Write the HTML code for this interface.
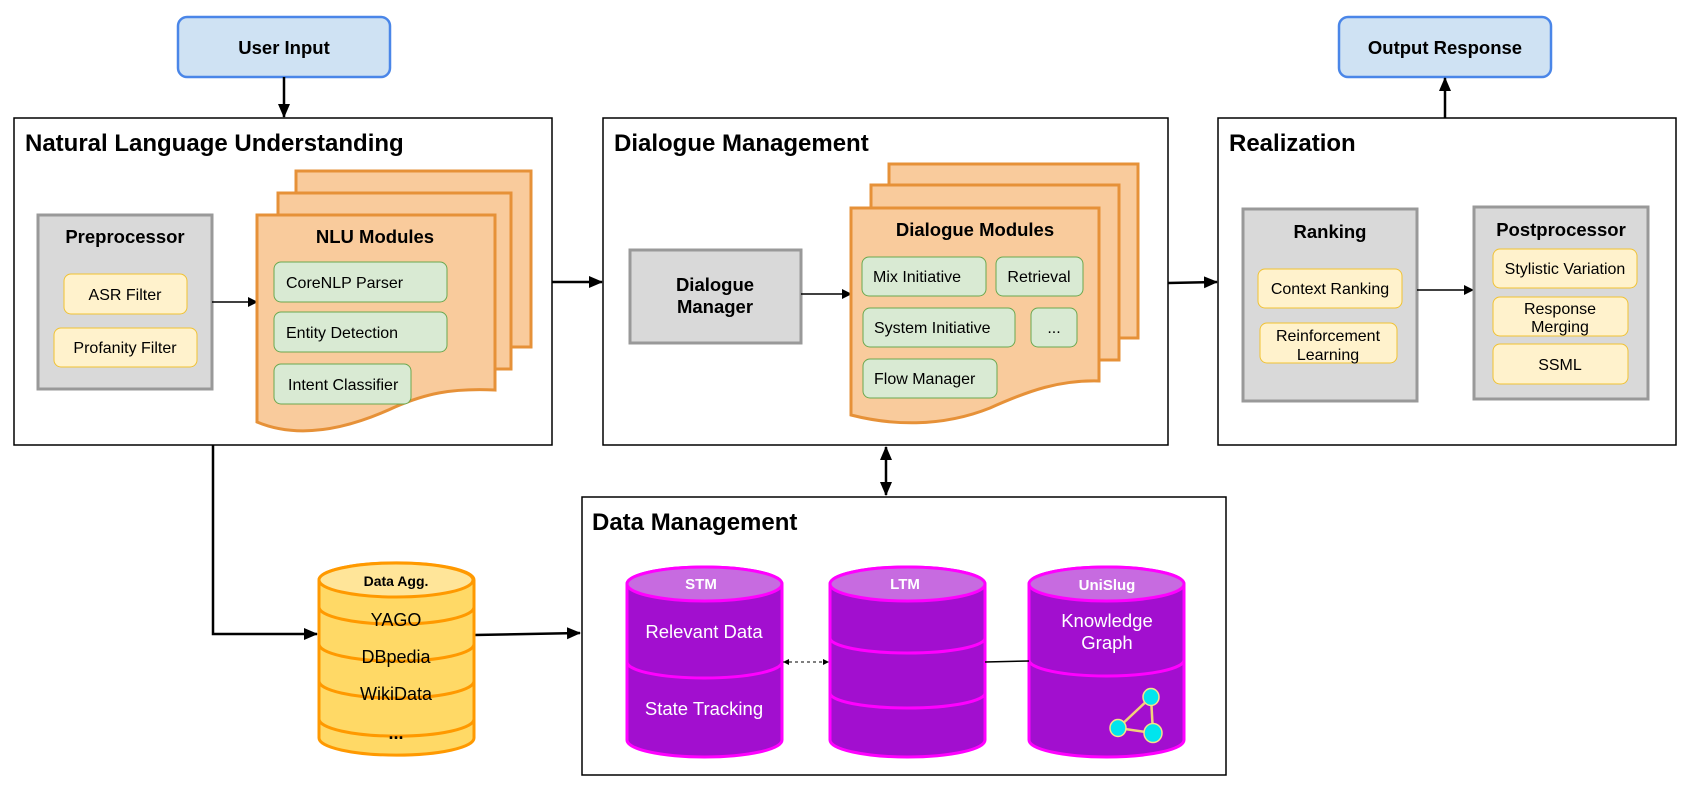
<!DOCTYPE html>
<html><head><meta charset="utf-8"><style>
html,body{margin:0;padding:0;background:#fff}
svg{display:block}
text{font-family:"Liberation Sans",Arial,sans-serif}
.t{font-size:24px;font-weight:bold;fill:#000}
.b{font-size:18.5px;font-weight:bold;fill:#000}
.s{font-size:16px;fill:#000}
.w{font-size:18.5px;fill:#fff}
.wb{font-size:15px;font-weight:bold;fill:#fff}
</style></head><body>
<svg width="1683" height="796" viewBox="0 0 1683 796" xmlns="http://www.w3.org/2000/svg">
<defs>
<marker id="ah" markerWidth="10" markerHeight="10" refX="9" refY="5" orient="auto" markerUnits="userSpaceOnUse" viewBox="0 0 10 10"><path d="M0,0 L10,5 L0,10 Z" fill="#000"/></marker>
<marker id="ahs" markerWidth="14" markerHeight="14" refX="13" refY="7" orient="auto-start-reverse" markerUnits="userSpaceOnUse" viewBox="0 0 14 14"><path d="M0,1 L14,7 L0,13 Z" fill="#000"/></marker>
<marker id="am" markerWidth="6" markerHeight="6" refX="6" refY="3" orient="auto-start-reverse" markerUnits="userSpaceOnUse" viewBox="0 0 6 6"><path d="M0,0 L6,3 L0,6 Z" fill="#000"/></marker>
</defs>

<!-- top boxes -->
<rect x="178" y="17" width="212" height="60" rx="9" fill="#cfe2f3" stroke="#4a86e8" stroke-width="2.5"/>
<text x="284" y="54" text-anchor="middle" class="b">User Input</text>
<rect x="1339" y="17" width="212" height="60" rx="9" fill="#cfe2f3" stroke="#4a86e8" stroke-width="2.5"/>
<text x="1445" y="54" text-anchor="middle" class="b">Output Response</text>
<line x1="284" y1="77" x2="284" y2="117" stroke="#000" stroke-width="2.5" marker-end="url(#ahs)"/>
<line x1="1445" y1="118" x2="1445" y2="78" stroke="#000" stroke-width="2.5" marker-end="url(#ahs)"/>

<!-- NLU -->
<rect x="14" y="118" width="538" height="327" fill="#fff" stroke="#000" stroke-width="1.5"/>
<text x="25" y="151" class="t">Natural Language Understanding</text>
<rect x="38" y="215" width="174" height="174" fill="#d9d9d9" stroke="#999" stroke-width="3"/>
<text x="125" y="243" text-anchor="middle" class="b">Preprocessor</text>
<rect x="64" y="274" width="123" height="40" rx="7" fill="#fff2cc" stroke="#f1c232" stroke-width="1"/>
<text x="125" y="300" text-anchor="middle" class="s">ASR Filter</text>
<rect x="54" y="328" width="143" height="39" rx="7" fill="#fff2cc" stroke="#f1c232" stroke-width="1"/>
<text x="125" y="353" text-anchor="middle" class="s">Profanity Filter</text>
<line x1="212" y1="302" x2="257" y2="302" stroke="#000" stroke-width="1.5" marker-end="url(#ah)"/>
<rect x="296" y="171" width="235" height="176" fill="#f9cb9c" stroke="#e69138" stroke-width="3"/>
<rect x="278" y="193" width="233" height="176" fill="#f9cb9c" stroke="#e69138" stroke-width="3"/>
<path d="M257,215 H495 V390 C450,388 425,394 395,407 C350,428 300,440 257,422 Z" fill="#f9cb9c" stroke="#e69138" stroke-width="3"/>
<text x="375" y="243" text-anchor="middle" class="b">NLU Modules</text>
<rect x="274" y="262" width="173" height="40" rx="7" fill="#d9ead3" stroke="#6aa84f" stroke-width="1"/>
<text x="286" y="288" class="s">CoreNLP Parser</text>
<rect x="274" y="312" width="173" height="40" rx="7" fill="#d9ead3" stroke="#6aa84f" stroke-width="1"/>
<text x="286" y="338" class="s">Entity Detection</text>
<rect x="274" y="364" width="137" height="40" rx="7" fill="#d9ead3" stroke="#6aa84f" stroke-width="1"/>
<text x="288" y="390" class="s">Intent Classifier</text>

<line x1="552" y1="282" x2="602" y2="282" stroke="#000" stroke-width="2.5" marker-end="url(#ahs)"/>

<!-- DM -->
<rect x="603" y="118" width="565" height="327" fill="#fff" stroke="#000" stroke-width="1.5"/>
<text x="614" y="151" class="t">Dialogue Management</text>
<rect x="630" y="250" width="171" height="93" fill="#d9d9d9" stroke="#999" stroke-width="3"/>
<text x="715" y="291" text-anchor="middle" class="b">Dialogue</text>
<text x="715" y="313" text-anchor="middle" class="b">Manager</text>
<line x1="801" y1="294" x2="851" y2="294" stroke="#000" stroke-width="1.5" marker-end="url(#ah)"/>
<rect x="889" y="164" width="249" height="174" fill="#f9cb9c" stroke="#e69138" stroke-width="3"/>
<rect x="871" y="185" width="248" height="175" fill="#f9cb9c" stroke="#e69138" stroke-width="3"/>
<path d="M851,208 H1099 V381 C1060,380 1030,390 990,408 C940,428 890,425 851,415 Z" fill="#f9cb9c" stroke="#e69138" stroke-width="3"/>
<text x="975" y="236" text-anchor="middle" class="b">Dialogue Modules</text>
<rect x="862" y="257" width="124" height="39" rx="7" fill="#d9ead3" stroke="#6aa84f" stroke-width="1"/>
<text x="873" y="282" class="s">Mix Initiative</text>
<rect x="996" y="257" width="87" height="39" rx="7" fill="#d9ead3" stroke="#6aa84f" stroke-width="1"/>
<text x="1039" y="282" text-anchor="middle" class="s">Retrieval</text>
<rect x="863" y="308" width="152" height="39" rx="7" fill="#d9ead3" stroke="#6aa84f" stroke-width="1"/>
<text x="874" y="333" class="s">System Initiative</text>
<rect x="1031" y="308" width="46" height="39" rx="7" fill="#d9ead3" stroke="#6aa84f" stroke-width="1"/>
<text x="1054" y="333" text-anchor="middle" class="s">...</text>
<rect x="863" y="359" width="134" height="39" rx="7" fill="#d9ead3" stroke="#6aa84f" stroke-width="1"/>
<text x="874" y="384" class="s">Flow Manager</text>

<line x1="1168" y1="283" x2="1217" y2="282" stroke="#000" stroke-width="2.5" marker-end="url(#ahs)"/>

<!-- Realization -->
<rect x="1218" y="118" width="458" height="327" fill="#fff" stroke="#000" stroke-width="1.5"/>
<text x="1229" y="151" class="t">Realization</text>
<rect x="1243" y="209" width="174" height="192" fill="#d9d9d9" stroke="#999" stroke-width="3"/>
<text x="1330" y="238" text-anchor="middle" class="b">Ranking</text>
<rect x="1258" y="269" width="144" height="39" rx="7" fill="#fff2cc" stroke="#f1c232" stroke-width="1"/>
<text x="1330" y="294" text-anchor="middle" class="s">Context Ranking</text>
<rect x="1260" y="323" width="137" height="40" rx="7" fill="#fff2cc" stroke="#f1c232" stroke-width="1"/>
<text x="1328" y="341" text-anchor="middle" class="s">Reinforcement</text>
<text x="1328" y="360" text-anchor="middle" class="s">Learning</text>
<line x1="1417" y1="290" x2="1473" y2="290" stroke="#000" stroke-width="1.5" marker-end="url(#ah)"/>
<rect x="1474" y="207" width="174" height="192" fill="#d9d9d9" stroke="#999" stroke-width="3"/>
<text x="1561" y="236" text-anchor="middle" class="b">Postprocessor</text>
<rect x="1493" y="249" width="144" height="39" rx="7" fill="#fff2cc" stroke="#f1c232" stroke-width="1"/>
<text x="1565" y="274" text-anchor="middle" class="s">Stylistic Variation</text>
<rect x="1493" y="297" width="135" height="39" rx="7" fill="#fff2cc" stroke="#f1c232" stroke-width="1"/>
<text x="1560" y="314" text-anchor="middle" class="s">Response</text>
<text x="1560" y="332" text-anchor="middle" class="s">Merging</text>
<rect x="1493" y="344" width="135" height="40" rx="7" fill="#fff2cc" stroke="#f1c232" stroke-width="1"/>
<text x="1560" y="370" text-anchor="middle" class="s">SSML</text>

<!-- DM <-> Data -->
<line x1="886" y1="447" x2="886" y2="495" stroke="#000" stroke-width="2.5" marker-start="url(#ahs)" marker-end="url(#ahs)"/>

<!-- NLU -> Data Agg -->
<polyline points="213,445 213,634 317,634" fill="none" stroke="#000" stroke-width="2.5" marker-end="url(#ahs)"/>
<line x1="474" y1="635" x2="580" y2="633" stroke="#000" stroke-width="2.5" marker-end="url(#ahs)"/>

<!-- Data Agg cylinder -->
<path d="M319,580 A77,17 0 0 1 474,580 V738 A77,17 0 0 1 319,738 Z" fill="#ffd966" stroke="#ff9900" stroke-width="3"/>
<ellipse cx="396" cy="580" rx="77" ry="17" fill="#ffe599" stroke="#ff9900" stroke-width="3"/>
<path d="M319,607 A77,17 0 0 0 474,607" fill="none" stroke="#ff9900" stroke-width="3"/>
<path d="M319,644 A77,17 0 0 0 474,644" fill="none" stroke="#ff9900" stroke-width="3"/>
<path d="M319,681 A77,17 0 0 0 474,681" fill="none" stroke="#ff9900" stroke-width="3"/>
<path d="M319,719 A77,17 0 0 0 474,719" fill="none" stroke="#ff9900" stroke-width="3"/>
<text x="396" y="586" text-anchor="middle" font-size="14" font-weight="bold">Data Agg.</text>
<text x="396" y="626" text-anchor="middle" font-size="18">YAGO</text>
<text x="396" y="663" text-anchor="middle" font-size="18">DBpedia</text>
<text x="396" y="700" text-anchor="middle" font-size="18">WikiData</text>
<text x="396" y="739" text-anchor="middle" font-size="18" font-weight="bold">...</text>

<!-- Data Management -->
<rect x="582" y="497" width="644" height="278" fill="#fff" stroke="#000" stroke-width="1.5"/>
<text x="592" y="530" class="t">Data Management</text>

<!-- STM -->
<path d="M627,584 A77.5,17 0 0 1 782,584 V740 A77.5,17 0 0 1 627,740 Z" fill="#a20fcf" stroke="#ff00ff" stroke-width="3"/>
<ellipse cx="704.5" cy="584" rx="77.5" ry="17" fill="#c76be0" stroke="#ff00ff" stroke-width="3"/>
<path d="M627,662 A77.5,16 0 0 0 782,662" fill="none" stroke="#ff00ff" stroke-width="3"/>
<text x="701" y="589" text-anchor="middle" class="wb">STM</text>
<text x="704" y="638" text-anchor="middle" class="w">Relevant Data</text>
<text x="704" y="715" text-anchor="middle" class="w">State Tracking</text>

<!-- LTM -->
<path d="M830,584 A77.5,17 0 0 1 985,584 V740 A77.5,17 0 0 1 830,740 Z" fill="#a20fcf" stroke="#ff00ff" stroke-width="3"/>
<ellipse cx="907.5" cy="584" rx="77.5" ry="17" fill="#c76be0" stroke="#ff00ff" stroke-width="3"/>
<path d="M830,638 A77.5,15 0 0 0 985,638" fill="none" stroke="#ff00ff" stroke-width="3"/>
<path d="M830,693 A77.5,15 0 0 0 985,693" fill="none" stroke="#ff00ff" stroke-width="3"/>
<text x="905" y="589" text-anchor="middle" class="wb">LTM</text>

<!-- UniSlug -->
<path d="M1029,584 A77.5,17 0 0 1 1184,584 V740 A77.5,17 0 0 1 1029,740 Z" fill="#a20fcf" stroke="#ff00ff" stroke-width="3"/>
<ellipse cx="1106.5" cy="584" rx="77.5" ry="17" fill="#c76be0" stroke="#ff00ff" stroke-width="3"/>
<path d="M1029,660 A77.5,16 0 0 0 1184,660" fill="none" stroke="#ff00ff" stroke-width="3"/>
<text x="1107" y="590" text-anchor="middle" class="wb">UniSlug</text>
<text x="1107" y="627" text-anchor="middle" class="w">Knowledge</text>
<text x="1107" y="649" text-anchor="middle" class="w">Graph</text>
<g stroke="#f2d27a" stroke-width="2.5"><line x1="1151" y1="697" x2="1118" y2="728"/><line x1="1151" y1="697" x2="1153" y2="733"/><line x1="1118" y1="728" x2="1153" y2="733"/></g>
<g fill="#00e5ee" stroke="#f7e08a" stroke-width="1.5"><ellipse cx="1151" cy="697" rx="8" ry="8.5"/><ellipse cx="1118" cy="728" rx="8" ry="8.5"/><ellipse cx="1153" cy="733" rx="9" ry="9.5"/></g>

<!-- connectors in data mgmt -->
<line x1="783" y1="662" x2="829" y2="662" stroke="#000" stroke-width="1" stroke-dasharray="3,3" marker-start="url(#am)" marker-end="url(#am)"/>
<line x1="985" y1="662" x2="1029" y2="661" stroke="#000" stroke-width="1.5"/>
</svg>
</body></html>
